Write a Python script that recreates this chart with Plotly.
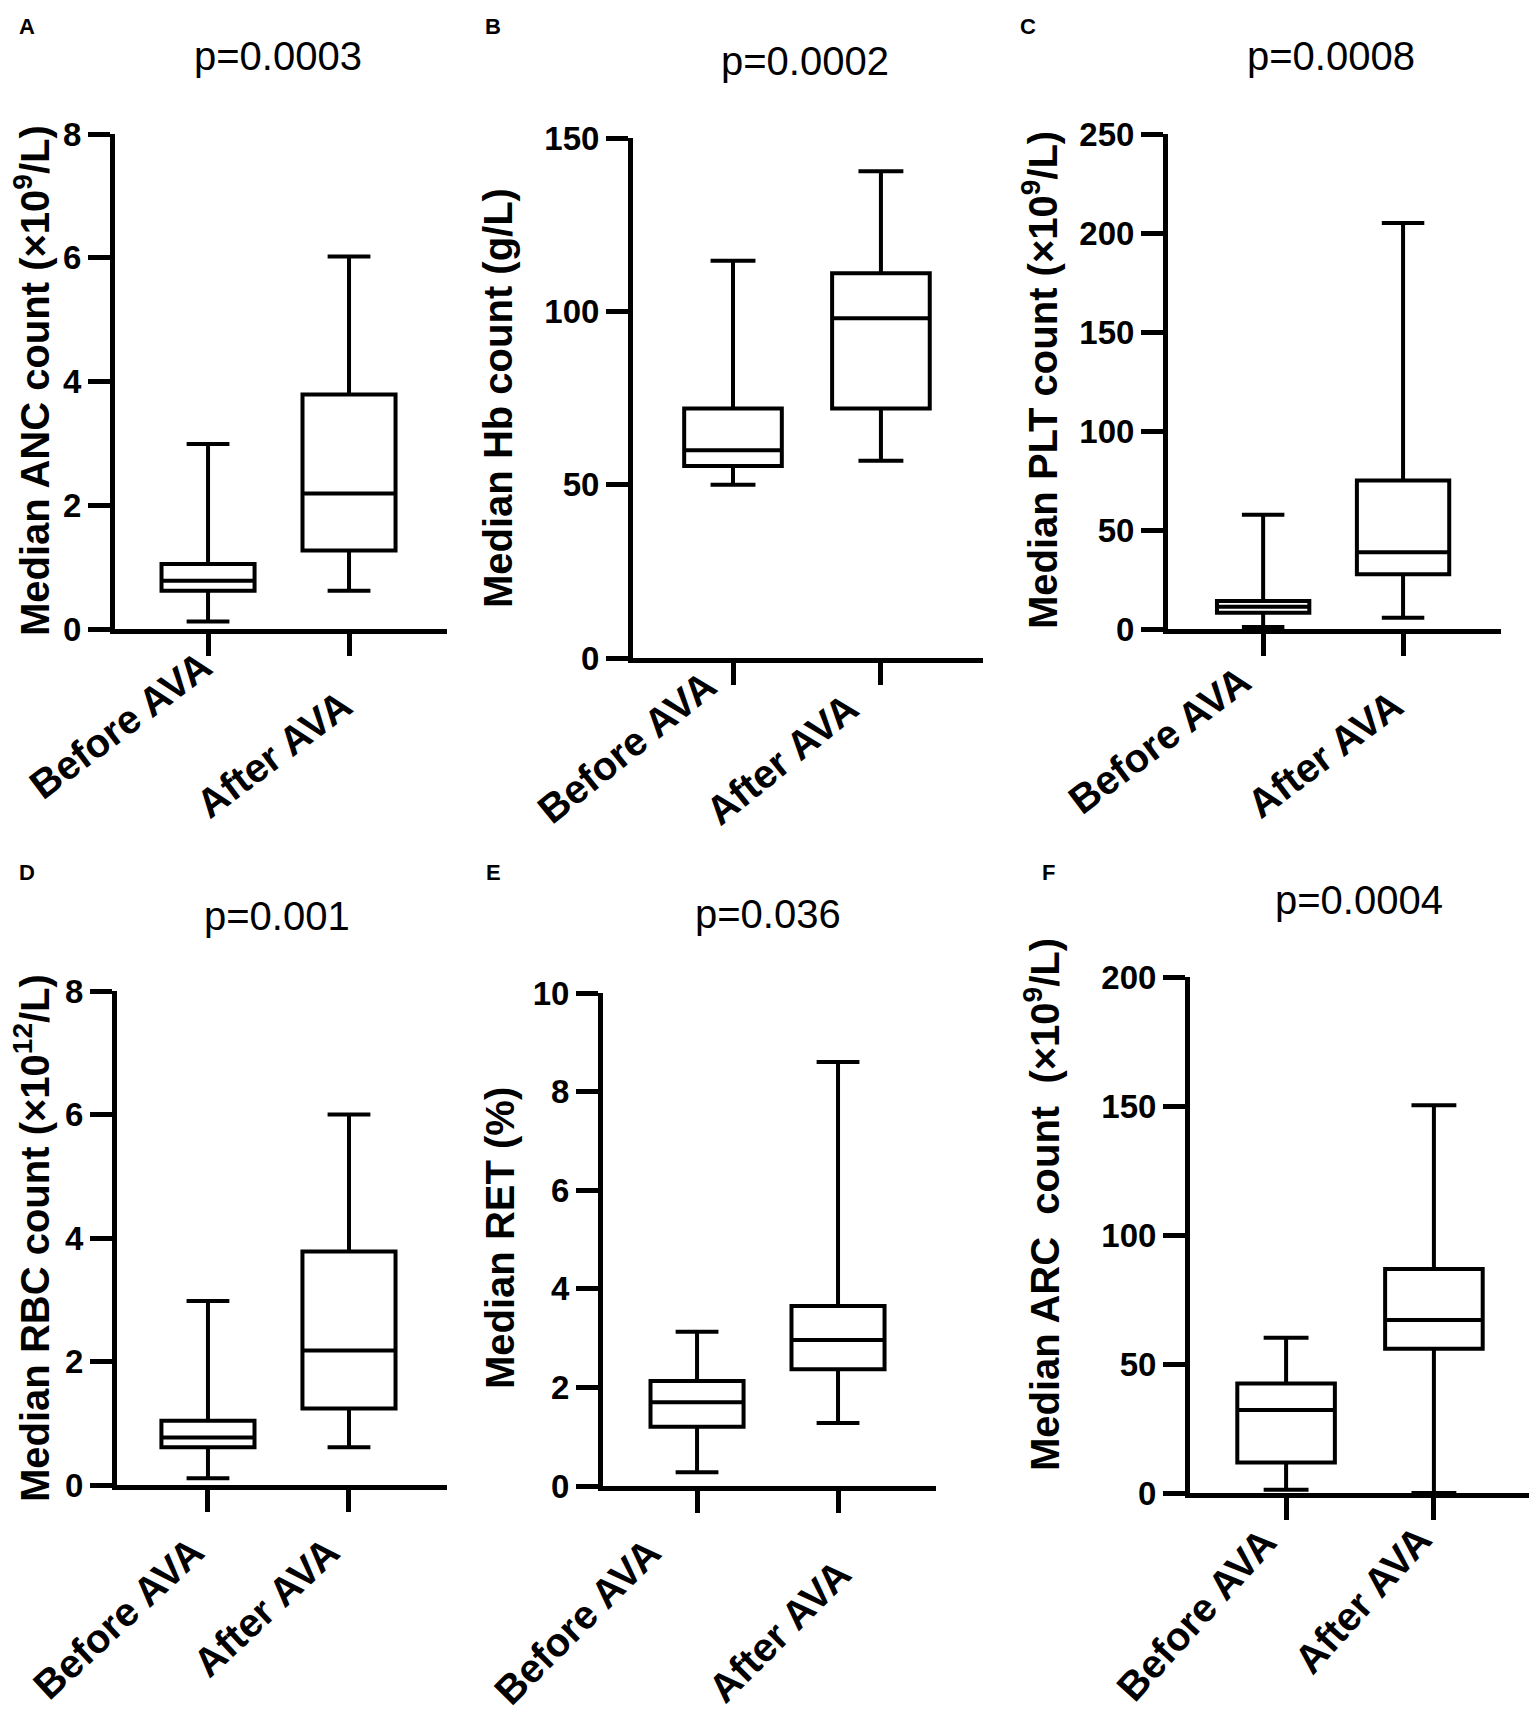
import plotly.graph_objects as go

# the page body adds an 8 px margin, so the figure is made 8 px smaller and shifted
OFF = 8
W, H = 1537 - OFF, 1716 - OFF

categories = ["Before AVA", "After AVA"]

# five-number summaries: [lower whisker, Q1, median, Q3, upper whisker]
anc_before = [0.12, 0.62, 0.78, 1.05, 2.99]
anc_after = [0.62, 1.27, 2.19, 3.79, 6.02]
hb_before = [50.0, 55.4, 59.9, 72.0, 114.6]
hb_after = [56.9, 72.0, 98.0, 111.0, 140.4]
plt_before = [1.0, 8.2, 11.3, 14.2, 57.7]
plt_after = [5.7, 27.6, 38.7, 75.0, 205.0]
rbc_before = [0.11, 0.61, 0.77, 1.04, 2.98]
rbc_after = [0.61, 1.24, 2.18, 3.78, 6.0]
ret_before = [0.28, 1.2, 1.7, 2.13, 3.13]
ret_after = [1.28, 2.37, 2.96, 3.65, 8.6]
arc_before = [1.3, 11.8, 32.2, 42.4, 60.2]
arc_after = [0.0, 55.9, 67.1, 86.8, 150.3]

p_values = ["p=0.0003", "p=0.0002", "p=0.0008", "p=0.001", "p=0.036", "p=0.0004"]
panel_letters = ["A", "B", "C", "D", "E", "F"]
y_titles = [
    "Median ANC count (×10<sup>9</sup>/L)",
    "Median Hb count (g/L)",
    "Median PLT count (×10<sup>9</sup>/L)",
    "Median RBC count (×10<sup>12</sup>/L)",
    "Median RET (%)",
    "Median ARC\u00a0 count\u00a0 (×10<sup>9</sup>/L)",
]
y_max = [8, 150, 250, 8, 10, 200]
y_dtick = [2, 50, 50, 2, 2, 50]

data = [
    (anc_before, anc_after),
    (hb_before, hb_after),
    (plt_before, plt_after),
    (rbc_before, rbc_after),
    (ret_before, ret_after),
    (arc_before, arc_after),
]

# pixel layout of each panel: axis x, axis end x, zero y, top y, x range, title x/y, p x/y, letter x/y,
# label angle and, per category, the label box's right edge / top edge relative to tick and axis
panels = [
    dict(x0=115, x1=447, y0=629, y1=134, xr=[-0.66, 1.695], tx=32, ty=381, px=278, py=56, lx=27, ly=26,
         ang=-37, lab=[(14, 11), (13, 50)]),
    dict(x0=633, x1=983, y0=658, y1=138, xr=[-0.676, 1.69], tx=498, ty=398, px=805, py=61, lx=493, ly=26,
         ang=-39, lab=[(-6, 1), (-12, 24)]),
    dict(x0=1168, x1=1501, y0=629, y1=134, xr=[-0.68, 1.70], tx=1040, ty=380, px=1331, py=56, lx=1028, ly=26,
         ang=-37, lab=[(-2, 26), (10, 50)]),
    dict(x0=117, x1=447, y0=1485, y1=991, xr=[-0.645, 1.695], tx=32, ty=1238, px=277, py=916, lx=27, ly=872,
         ang=-43, lab=[(7, 41), (1, 41)]),
    dict(x0=603, x1=936, y0=1486, y1=993, xr=[-0.667, 1.695], tx=500, ty=1238, px=768, py=914, lx=493, ly=872,
         ang=-45, lab=[(-25, 41), (24, 63)]),
    dict(x0=1190, x1=1530, y0=1493, y1=977, xr=[-0.65, 1.65], tx=1042, ty=1205, px=1359, py=900, lx=1048, ly=872,
         ang=-48, lab=[(2, 24), (8, 22)]),
]


def fx(v):
    return (v - OFF) / W


def fy(v):
    return 1 - (v - OFF) / H


FONT = "Liberation Sans"

fig = go.Figure()
annotations = []

for i, (p, (before, after)) in enumerate(zip(panels, data)):
    n = "" if i == 0 else str(i + 1)
    for cat, vals in zip(categories, (before, after)):
        fig.add_trace(
            go.Box(
                x=[cat],
                lowerfence=[vals[0]],
                q1=[vals[1]],
                median=[vals[2]],
                q3=[vals[3]],
                upperfence=[vals[4]],
                width=0.66,
                whiskerwidth=0.46,
                fillcolor="white",
                line=dict(color="black", width=4),
                boxpoints=False,
                hoverinfo="skip",
                showlegend=False,
                xaxis="x" + n,
                yaxis="y" + n,
            )
        )

    fig.update_layout(
        {
            "xaxis" + n: dict(
                domain=[fx(p["x0"]), fx(p["x1"])],
                anchor="y" + n,
                type="category",
                categoryorder="array",
                categoryarray=categories,
                range=p["xr"],
                automargin=False,
                showline=True,
                linecolor="black",
                linewidth=5,
                ticks="outside",
                ticklen=22,
                tickwidth=4.5,
                tickcolor="black",
                showticklabels=False,
                showgrid=False,
                zeroline=False,
            ),
            "yaxis" + n: dict(
                domain=[fy(p["y0"]), fy(p["y1"])],
                anchor="x" + n,
                range=[0, y_max[i]],
                dtick=y_dtick[i],
                tick0=0,
                automargin=False,
                showline=True,
                linecolor="black",
                linewidth=5,
                ticks="outside",
                ticklen=22,
                tickwidth=4.5,
                tickcolor="black",
                tickfont=dict(family=FONT, size=33, color="black", weight="bold"),
                showgrid=False,
                zeroline=False,
            ),
        }
    )

    # rotated category labels, hung from each category tick
    for k, cat in enumerate(categories):
        dx, dy = p["lab"][k]
        annotations.append(dict(
            text=cat, textangle=p["ang"], showarrow=False,
            xref="x" + n, yref="y" + n, x=k, y=0,
            xanchor="right", yanchor="top",
            xshift=dx, yshift=-dy,
            font=dict(family=FONT, size=40, color="black", weight="bold"),
        ))

    annotations.append(dict(
        text=y_titles[i], textangle=-90, showarrow=False,
        xref="paper", yref="paper", x=fx(p["tx"]), y=fy(p["ty"]),
        xanchor="center", yanchor="middle",
        font=dict(family=FONT, size=40, color="black", weight="bold"),
    ))
    annotations.append(dict(
        text=p_values[i], showarrow=False,
        xref="paper", yref="paper", x=fx(p["px"]), y=fy(p["py"]),
        xanchor="center", yanchor="middle",
        font=dict(family=FONT, size=40, color="black"),
    ))
    annotations.append(dict(
        text=panel_letters[i], showarrow=False,
        xref="paper", yref="paper", x=fx(p["lx"]), y=fy(p["ly"]),
        xanchor="center", yanchor="middle",
        font=dict(family=FONT, size=22, color="black", weight="bold"),
    ))

fig.update_layout(
    width=W,
    height=H,
    margin=dict(l=0, r=0, t=0, b=0, autoexpand=False),
    paper_bgcolor="white",
    plot_bgcolor="white",
    annotations=annotations,
)

fig.write_html("out.html")
